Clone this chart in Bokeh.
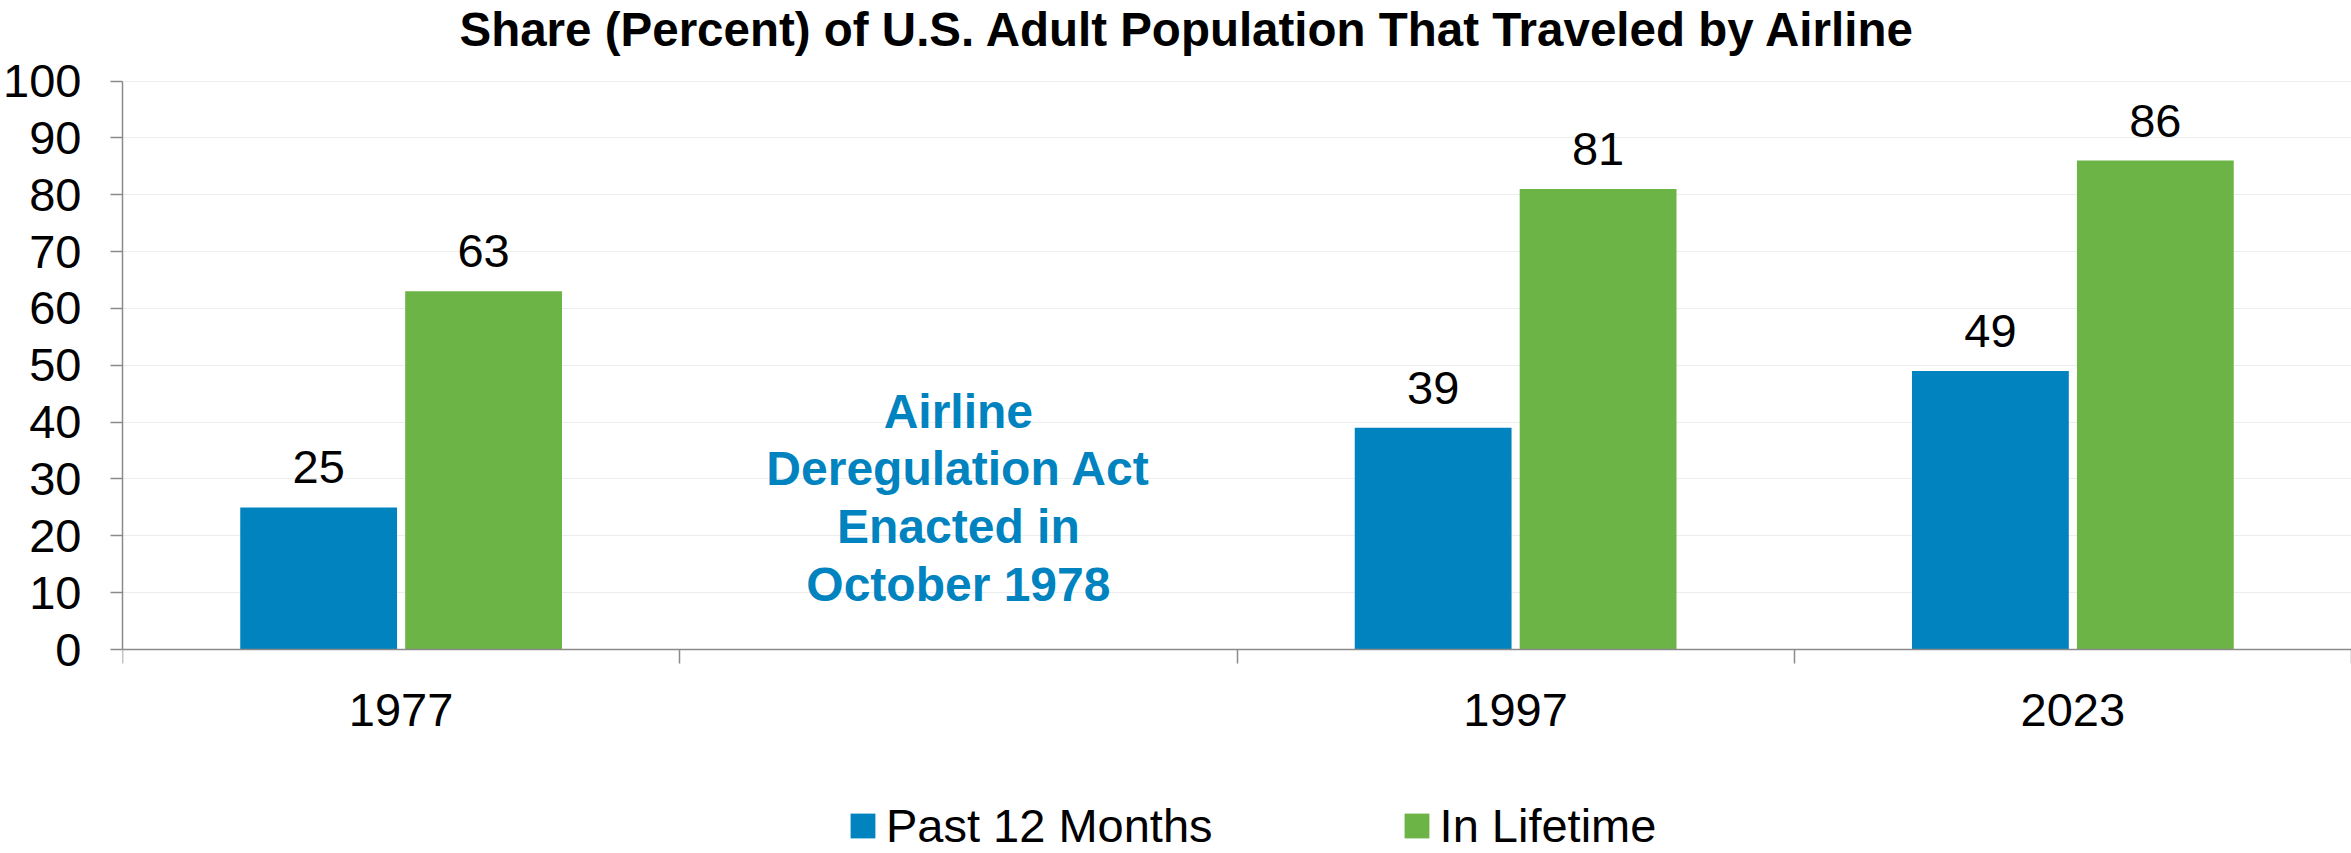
from bokeh.plotting import figure
from bokeh.models import Range1d, FixedTicker, Legend, LegendItem, Label, ColumnDataSource
from bokeh.core.properties import value
from bokeh.embed import file_html
from bokeh.resources import INLINE

# ---------------- data ----------------
title_text = "Share (Percent) of U.S. Adult Population That Traveled by Airline"
categories = ["1977", "", "1997", "2023"]          # "" = gap slot holding the note
past_12_months = [25, None, 39, 49]
in_lifetime = [63, None, 81, 86]
series_names = ["Past 12 Months", "In Lifetime"]
y_ticks = [0, 10, 20, 30, 40, 50, 60, 70, 80, 90, 100]
annotation_text = "Airline\nDeregulation Act\nEnacted in\nOctober 1978"

# ---------------- style / layout ----------------
BLUE = "#0083BF"
GREEN = "#6BB445"
FONT = "Liberation Sans"
AXIS_GRAY = "#8A8A8A"
W, H = 2351, 853
FRAME_TOP = 55      # expected frame top (below the title panel), px
TOP_PX = 80.5       # where value 100 sits, px from top
ZERO_PX = 649       # where value 0 sits, px from top
Y_MAX = 100
px_per_unit = (ZERO_PX - TOP_PX) / Y_MAX
y_end = Y_MAX + (TOP_PX - FRAME_TOP) / px_per_unit
y_start = -(H - ZERO_PX) / px_per_unit   # frame runs to the canvas bottom (legend lives there)

n = len(categories)
p = figure(width=W, height=H, output_backend="svg", toolbar_location=None,
           x_range=Range1d(0, n), y_range=Range1d(y_start, y_end),
           min_border_left=120, min_border_right=0, min_border_top=0,
           min_border_bottom=0)
p.outline_line_color = None
p.background_fill_color = "white"
p.border_fill_color = "white"

# title
p.title.text = title_text
p.title.text_font = FONT
p.title.text_font_size = "47.5px"
p.title.text_font_style = "bold"
p.title.text_color = "black"
p.title.align = "left"
p.title.offset = 337
p.title.standoff = 0

# bars
idx = [i for i, c in enumerate(categories) if c]
src = ColumnDataSource(dict(
    xb=[i + 0.5 - 0.148 for i in idx],
    xg=[i + 0.5 + 0.148 for i in idx],
    past=[past_12_months[i] for i in idx],
    life=[in_lifetime[i] for i in idx],
    past_lbl=[str(past_12_months[i]) for i in idx],
    life_lbl=[str(in_lifetime[i]) for i in idx],
))
bw = 0.2814
r1 = p.vbar(x="xb", top="past", bottom=0, width=bw, source=src,
            fill_color=BLUE, line_color=None)
r2 = p.vbar(x="xg", top="life", bottom=0, width=bw, source=src,
            fill_color=GREEN, line_color=None)

for xcol, ycol, tcol in (("xb", "past", "past_lbl"), ("xg", "life", "life_lbl")):
    p.text(x=xcol, y=ycol, text=tcol, source=src, text_align="center",
           text_baseline="alphabetic", y_offset=-40,
           text_font=value(FONT), text_font_size="47px", text_color="black")

# annotation in the empty slot
gap_idx = categories.index("")
p.add_layout(Label(x=gap_idx + 0.5, y=26.7, text=annotation_text,
                   text_align="center", text_baseline="middle",
                   text_font=FONT, text_font_style="bold",
                   text_font_size="48px", text_color=BLUE,
                   text_line_height=1.09))

# y axis (line limited to 0..100)
yax = p.yaxis[0]
yax.ticker = FixedTicker(ticks=y_ticks)
yax.bounds = (0, Y_MAX)
yax.major_tick_out = 12
yax.major_tick_in = 0
yax.minor_tick_out = 0
yax.minor_tick_in = 0
yax.axis_line_color = AXIS_GRAY
yax.axis_line_width = 1.5
yax.major_tick_line_color = AXIS_GRAY
yax.major_tick_line_width = 1.5
yax.major_label_standoff = 29
yax.major_label_text_font = FONT
yax.major_label_text_font_size = "47px"
yax.major_label_text_color = "black"

# x axis at value 0: labels at category centres, ticks at category boundaries
xax = p.xaxis[0]
xax.fixed_location = 0
centres = [i + 0.5 for i in range(n)]
xax.ticker = FixedTicker(ticks=centres, minor_ticks=list(range(n + 1)))
xax.major_label_overrides = {c: lab for c, lab in zip(centres, categories)}
xax.major_tick_out = 0
xax.major_tick_in = 0
xax.minor_tick_out = 14
xax.minor_tick_in = 0
xax.minor_tick_line_color = AXIS_GRAY
xax.minor_tick_line_width = 1.5
xax.axis_line_color = AXIS_GRAY
xax.axis_line_width = 1.5
xax.major_label_standoff = 30
xax.major_label_text_font = FONT
xax.major_label_text_font_size = "47px"
xax.major_label_text_color = "black"

# grid
p.xgrid.visible = False
p.ygrid.ticker = FixedTicker(ticks=y_ticks)
p.ygrid.grid_line_color = "#EDEDED"
p.ygrid.grid_line_width = 1

# legend (inside the frame, bottom area)
legend = Legend(items=[LegendItem(label=series_names[0], renderers=[r1]),
                       LegendItem(label=series_names[1], renderers=[r2])],
                orientation="horizontal", location=(725, 0),
                glyph_width=31, glyph_height=31, label_standoff=8, spacing=188,
                padding=0, margin=0, border_line_color=None,
                background_fill_alpha=0,
                label_text_font=FONT, label_text_font_size="47px",
                label_text_color="black")
p.add_layout(legend)

open("out.html", "w").write(file_html(p, INLINE))
